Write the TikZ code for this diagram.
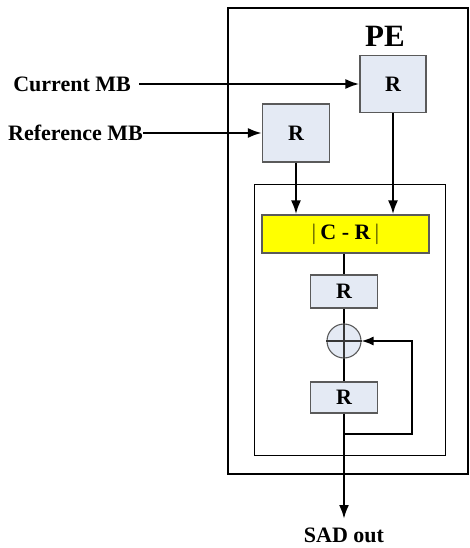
\documentclass[tikz,border=0pt]{standalone}
\usepackage{fontspec}
\setmainfont{Liberation Serif}
\usepackage{tikz}
\usetikzlibrary{arrows.meta,positioning,calc}
\definecolor{regfill}{HTML}{E4EAF4}
\definecolor{regdraw}{HTML}{5A5A5A}
\definecolor{absfill}{HTML}{FFFF00}
\tikzset{
  regbox/.style={draw=regdraw,line width=1.1pt,fill=regfill,inner sep=0pt,
    font=\bfseries\fontsize{22}{24}\selectfont},
  absbox/.style={regbox,fill=absfill,minimum width=167pt,minimum height=38pt},
  adder/.style={circle,draw=regdraw,line width=1.1pt,fill=regfill,inner sep=0pt,
    minimum size=34pt},
  inlabel/.style={font=\bfseries\fontsize{22}{24}\selectfont,inner sep=0pt},
  flow/.style={-{Latex[length=14pt,width=10pt]},line width=2.4pt},
  loopline/.style={-{Latex[length=12pt,width=9pt]},line width=1.5pt},
}
\begin{document}
\begin{tikzpicture}[x=1pt,y=-1pt]
  \useasboundingbox (0,0) rectangle (470,548);
  % processing element frame
  \draw[line width=2.8pt] (228,8) rectangle (468,474);
  \draw[line width=1pt] (254,184) rectangle (445,455);
  \node[font=\bfseries\fontsize{31}{33}\selectfont,inner sep=0pt] (pe) at (385,36) {PE};
  % input registers
  \node[regbox,minimum width=66pt,minimum height=57pt] (rcur) at (393,84) {R};
  \node[regbox,minimum width=67pt,minimum height=58pt] (rref) at (296,133) {R};
  \node[inlabel,anchor=east] (cur) at (131,84) {Current MB};
  \node[inlabel,anchor=east] (ref) at (143,133) {Reference MB};
  % datapath
  \node[absbox] (abs) at (345.5,234) {$|$\,C - R\,$|$};
  \node[regbox,minimum width=67pt,minimum height=33pt] (racc) at (344,291.5) {R};
  \node[adder] (add) at (344,341) {};
  \draw[line width=1.1pt,regdraw!60!black] (add.north) -- (add.south) (add.west) -- (add.east);
  \node[regbox,minimum width=67pt,minimum height=31pt] (rsum) at (344,397.5) {R};
  \node[inlabel] (sad) at (344,535) {SAD out};
  \coordinate (tap) at (344,434);
  \coordinate (out) at (344,519);
  % connections
  \draw[flow] (cur.east) ++(8,0) -- (rcur.west);
  \draw[flow] (ref.east) -- (rref.west);
  \draw[flow] (rref.south) -- (rref.south |- abs.north);
  \draw[flow] (rcur.south) -- (rcur.south |- abs.north);
  \draw[line width=2.4pt] (abs.south -| racc.north) -- (racc.north);
  \draw[line width=2.4pt] (racc.south) -- (add.north);
  \draw[line width=2.4pt] (add.south) -- (rsum.north);
  \draw[flow] (rsum.south) -- (out);
  \draw[loopline] (tap) -| (412,341) -- (add.east);
\end{tikzpicture}
\end{document}
